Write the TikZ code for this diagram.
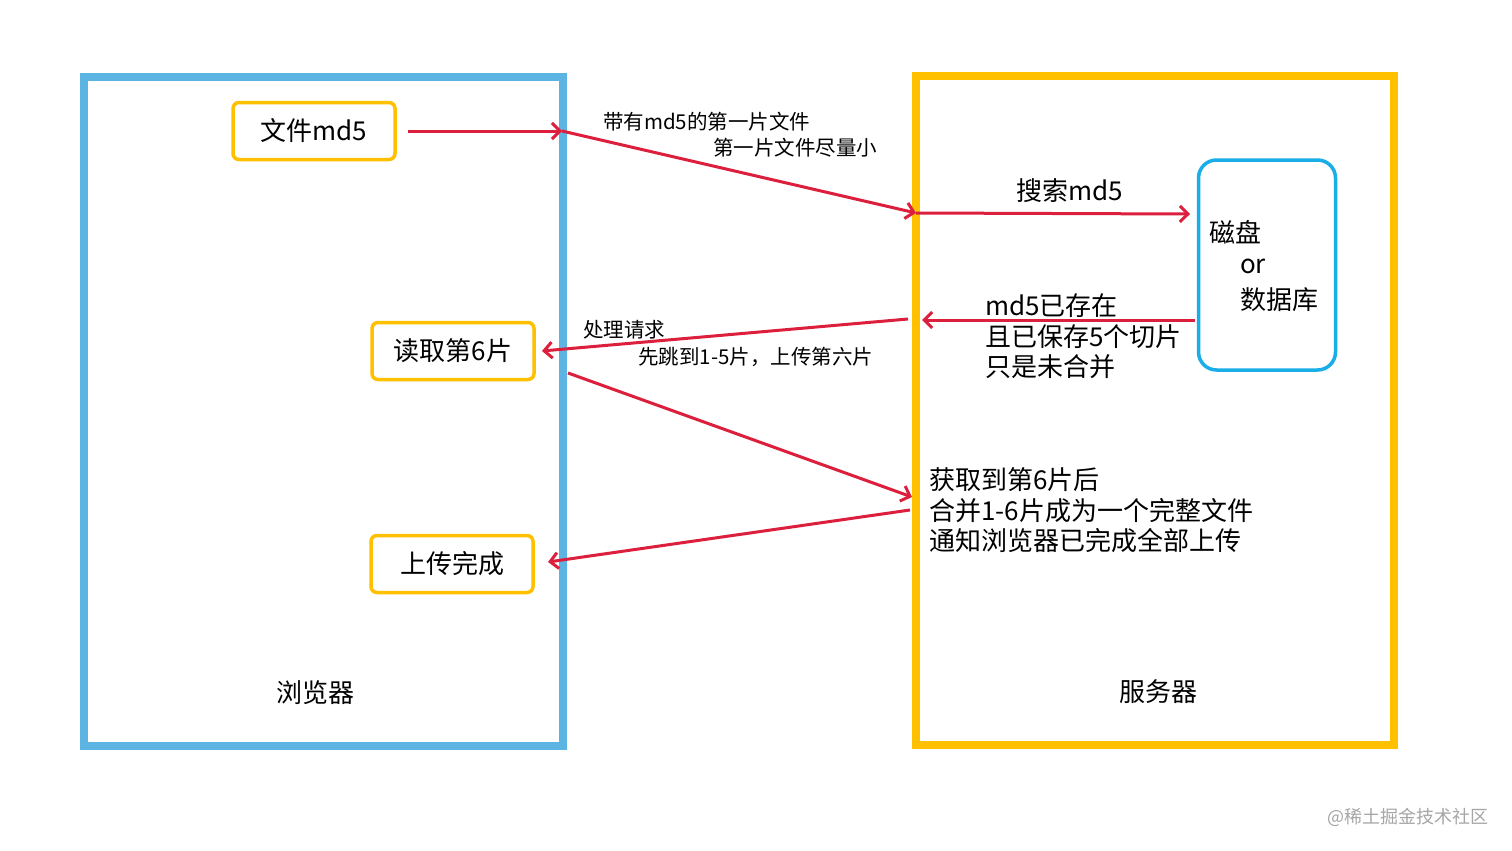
\documentclass[tikz,border=0pt]{standalone}
\usepackage{fontspec}
\setmainfont{Noto Sans CJK SC}
\usetikzlibrary{arrows.meta}
\definecolor{bblue}{HTML}{5BB4E2}
\definecolor{dblue}{HTML}{1AAEE8}
\definecolor{yel}{HTML}{FFC000}
\definecolor{rd}{HTML}{DC1F3C}
\begin{document}
\begin{tikzpicture}[x=1pt,y=-1pt,
  big/.style={font=\fontsize{26}{30}\selectfont},
  sm/.style={font=\fontsize{20.5}{25}\selectfont},
  step box/.style={draw=yel,line width=3.5pt,rounded corners=6pt,minimum width=162pt,minimum height=57pt,big,inner sep=0pt},
  arr/.style={draw=rd,line width=3pt,-{Straight Barb[length=8pt,width=16pt]}},
  lbl/.style={anchor=west,inner sep=0pt}]
\useasboundingbox (0,0) rectangle (1512,851);
\fill[white] (0,0) rectangle (1512,851);
\draw[bblue,line width=8pt] (84,77) rectangle (563,746);
\draw[yel,line width=8pt] (916,76) rectangle (1394,745);
\node[step box] (md5) at (314,131) {文件md5};
\node[step box] (read) at (453,351) {读取第6片};
\node[step box] (done) at (452,564) {上传完成};
\node[draw=dblue,line width=3.5pt,rounded corners=18pt,minimum width=137pt,minimum height=210pt] (db) at (1267,265) {};
\node[lbl,big] at (1209,232) {磁盘};
\node[lbl,big] at (1240,266) {or};
\node[lbl,big] at (1240,300) {数据库};
\coordinate (a1) at (408,131); \coordinate (a2) at (562,131);
\coordinate (b2) at (916,213); \coordinate (c2) at (1190,214);
\coordinate (d1) at (1195,320); \coordinate (d2) at (922,320);
\coordinate (e1) at (908,319); \coordinate (e2) at (542,351);
\coordinate (f1) at (568,373); \coordinate (f2) at (912,497);
\coordinate (g1) at (910,510); \coordinate (g2) at (548,562);
\draw[arr] (a1) -- (a2);
\draw[arr] (a2) -- (b2);
\draw[arr] (b2) -- (c2);
\draw[arr] (d1) -- (d2);
\draw[arr] (e1) -- (e2);
\draw[arr] (f1) -- (f2);
\draw[arr] (g1) -- (g2);
\node[lbl,sm] at (603,122) {带有md5的第一片文件};
\node[lbl,sm] at (713,148) {第一片文件尽量小};
\node[lbl,big] at (1016,191) {搜索md5};
\node[lbl,big] at (985,306) {md5已存在};
\node[lbl,big] at (985,337) {且已保存5个切片};
\node[lbl,big] at (985,367) {只是未合并};
\node[lbl,sm] at (583,330) {处理请求};
\node[lbl,sm] at (638,357) {先跳到1-5片，上传第六片};
\node[lbl,big] at (929,480) {获取到第6片后};
\node[lbl,big] at (929,511) {合并1-6片成为一个完整文件};
\node[lbl,big] at (929,541) {通知浏览器已完成全部上传};
\node[big] at (315,693) {浏览器};
\node[big] at (1158,692) {服务器};
\node[font=\fontsize{18}{22}\selectfont,text=gray!70] at (1408,817) {@稀土掘金技术社区};
\end{tikzpicture}
\end{document}
